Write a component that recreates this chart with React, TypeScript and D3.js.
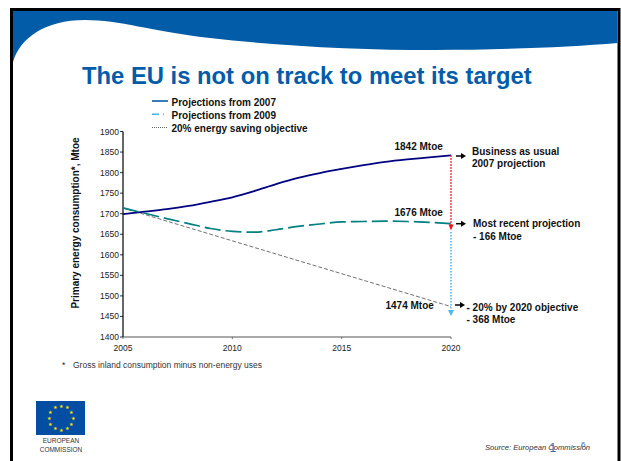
import React from "react";
import * as d3 from "d3";

const years2007 = [2005, 2006, 2007, 2008, 2009, 2010, 2011, 2012, 2013, 2014, 2015, 2016, 2017, 2018, 2019, 2020];
const proj2007 = [1699, 1705, 1711, 1719, 1729, 1740, 1755, 1772, 1787, 1799, 1809, 1818, 1826, 1832, 1837, 1842];
const years2009 = [2005, 2006, 2007, 2008, 2009, 2010, 2011, 2012, 2013, 2014, 2015, 2016, 2017, 2018, 2019, 2020];
const proj2009 = [1714, 1701, 1688, 1676, 1664, 1657, 1655, 1661, 1669, 1675, 1680, 1681, 1682, 1681, 1679, 1676];
const yearsObjective = [2005, 2010, 2015, 2020];
const objective = [1714, 1634, 1554, 1474];
const xTicks = [2005, 2010, 2015, 2020];
const yTicks = [1400, 1450, 1500, 1550, 1600, 1650, 1700, 1750, 1800, 1850, 1900];
const legendItems = ["Projections from 2007", "Projections from 2009", "20% energy saving objective"];

const FONT = "'Liberation Sans', Arial, sans-serif";

export default function App() {
  const x = d3.scaleLinear().domain([2005, 2020]).range([123, 451]);
  const y = d3.scaleLinear().domain([1400, 1900]).range([337, 131.5]);
  const curve = d3.line<number>().x((_, i) => x(years2007[i])).y((d) => y(d)).curve(d3.curveMonotoneX);
  const curve09 = d3.line<number>().x((_, i) => x(years2009[i])).y((d) => y(d)).curve(d3.curveMonotoneX);
  const straight = d3.line<number>().x((_, i) => x(yearsObjective[i])).y((d) => y(d));

  const arrow = (x1: number, yy: number) => (
    <g>
      <line x1={x1} x2={x1 + 7} y1={yy} y2={yy} stroke="#000" strokeWidth={1.5} />
      <path d={`M${x1 + 10},${yy}L${x1 + 5},${yy - 3}L${x1 + 5},${yy + 3}Z`} fill="#000" />
    </g>
  );

  const bold = { fontFamily: FONT, fontWeight: 700, fontSize: 10, fill: "#111" } as const;

  return (
    <svg width={621} height={461} style={{ position: "absolute", left: 0, top: 0, background: "#fff" }}>
      <rect x={11.5} y={9.5} width={607.5} height={455} fill="#fff" stroke="#000" strokeWidth={3} />
      <path d="M13,62 C20,38 45,20 85,20 C120,20 150,31 210,38 C280,46 360,50 435,50 C500,50 570,47 617.5,43 L617.5,11 L13,11 Z" fill="#035ca8" />
      <text x={82} y={84} fontFamily={FONT} fontWeight={700} fontSize={23.8} fill="#035ca8">The EU is not on track to meet its target</text>

      {legendItems.map((t, i) => (
        <text key={t} x={171.5} y={106 + i * 13.1} {...bold}>{t}</text>
      ))}
      <line x1={152} x2={168} y1={101} y2={101} stroke="#035ca8" strokeWidth={1.6} />
      <line x1={152} x2={168} y1={114.3} y2={114.3} stroke="#3db5f0" strokeWidth={1.6} strokeDasharray="7 4 1 10" />
      <line x1={152} x2={168} y1={127.5} y2={127.5} stroke="#222" strokeWidth={0.7} strokeDasharray="1 1" />

      <line x1={123} x2={123} y1={131.5} y2={337} stroke="#000" strokeWidth={1.2} />
      {yTicks.map((t) => (
        <g key={t}>
          <line x1={120} x2={123} y1={y(t)} y2={y(t)} stroke="#000" strokeWidth={0.8} />
          <text x={119} y={y(t) + 3} textAnchor="end" fontFamily={FONT} fontSize={8.5} fill="#222">{t}</text>
        </g>
      ))}
      <line x1={123} x2={451} y1={337} y2={337} stroke="#555" strokeWidth={1.2} />
      {xTicks.map((t) => (
        <g key={t}>
          <line x1={x(t)} x2={x(t)} y1={337} y2={339} stroke="#555" strokeWidth={0.8} />
          <text x={x(t)} y={351} textAnchor="middle" fontFamily={FONT} fontSize={8.5} fill="#222">{t}</text>
        </g>
      ))}
      <text transform="translate(79,223) rotate(-90)" textAnchor="middle" {...bold}>Primary energy consumption*, Mtoe</text>

      <path d={straight(objective) ?? ""} fill="none" stroke="#333" strokeWidth={0.7} strokeDasharray="4 2" />
      <path d={curve(proj2007) ?? ""} fill="none" stroke="#000080" strokeWidth={1.8} />
      <path d={curve09(proj2009) ?? ""} fill="none" stroke="#008080" strokeWidth={1.7} strokeDasharray="16 5" />

      <line x1={451} x2={451} y1={y(1842)} y2={y(1676) + 3} stroke="#f01020" strokeWidth={1.6} strokeDasharray="1.5 1.5" />
      <path d={`M448.5,${y(1676) + 1}L453.5,${y(1676) + 1}L451,${y(1676) + 7}Z`} fill="#f01020" />
      <line x1={451} x2={451} y1={232} y2={309} stroke="#4db8f0" strokeWidth={1.6} strokeDasharray="1.5 1.5" />
      <path d="M448,310L454,310L451,316Z" fill="#4db8f0" />

      <text x={394.5} y={149.5} {...bold}>1842 Mtoe</text>
      <text x={394.5} y={216} {...bold}>1676 Mtoe</text>
      <text x={385.5} y={309} {...bold}>1474 Mtoe</text>

      {arrow(456, 156)}
      {arrow(456, 223.7)}
      {arrow(455, 305)}

      <text x={472} y={155} {...bold}>Business as usual</text>
      <text x={472} y={167} {...bold}>2007 projection</text>
      <text x={473} y={227} {...bold}>Most recent projection</text>
      <text x={473} y={240} {...bold}>- 166 Mtoe</text>
      <text x={466.5} y={311} {...bold}>- 20% by 2020 objective</text>
      <text x={466.5} y={323} {...bold}>- 368 Mtoe</text>

      <text x={62} y={368} fontFamily={FONT} fontSize={8.5} fill="#222">*</text>
      <text x={73} y={368} fontFamily={FONT} fontSize={8.5} fill="#333">Gross inland consumption minus non-energy uses</text>

      <rect x={36} y={401} width={49} height={34} fill="#034ea2" />
      {d3.range(12).map((i) => {
        const a = (i * Math.PI) / 6;
        return (
          <text key={i} x={60.5 + 12 * Math.sin(a)} y={418 + 1.8 - 12 * Math.cos(a)} textAnchor="middle" fontFamily={FONT} fontSize={4.5} fill="#ffe000">★</text>
        );
      })}
      <text x={61} y={443} textAnchor="middle" fontFamily={FONT} fontSize={6.5} fill="#333">EUROPEAN</text>
      <text x={61} y={452} textAnchor="middle" fontFamily={FONT} fontSize={6.5} fill="#333">COMMISSION</text>

      <text x={485} y={450} fontFamily={FONT} fontStyle="italic" fontSize={7.6} fill="#333">Source: European Commission</text>
      <text x={549.5} y={452} fontFamily={FONT} fontSize={12} fontWeight={300} fill="#2a6eb8">1</text>
      <text x={581} y={447} fontFamily={FONT} fontSize={8} fill="#2a6eb8">6</text>
    </svg>
  );
}
